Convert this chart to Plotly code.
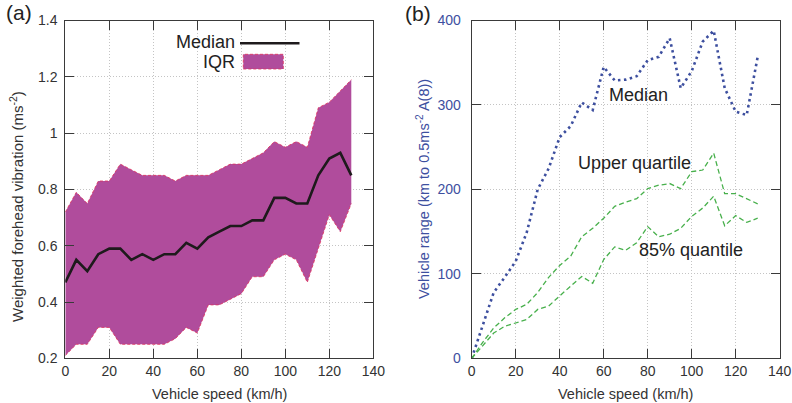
import plotly.graph_objects as go

# ---------------- data ----------------
speed = list(range(0, 135, 5))

# panel (a)
vib_median = [0.47, 0.55, 0.51, 0.57, 0.59, 0.59, 0.55, 0.57, 0.55, 0.57, 0.57, 0.61, 0.59, 0.63,
              0.65, 0.67, 0.67, 0.69, 0.69, 0.77, 0.77, 0.75, 0.75, 0.85, 0.91, 0.93, 0.85]
vib_q75 = [0.72, 0.79, 0.75, 0.83, 0.83, 0.89, 0.87, 0.85, 0.85, 0.85, 0.83, 0.85, 0.85, 0.85,
           0.87, 0.89, 0.89, 0.91, 0.93, 0.97, 0.95, 0.97, 0.95, 1.09, 1.11, 1.15, 1.19]
vib_q25 = [0.21, 0.25, 0.25, 0.31, 0.31, 0.25, 0.25, 0.25, 0.25, 0.25, 0.27, 0.31, 0.29, 0.39,
           0.39, 0.41, 0.43, 0.49, 0.49, 0.55, 0.57, 0.55, 0.47, 0.59, 0.71, 0.65, 0.75]

# panel (b)
range_median = [0, 38, 78, 96, 115, 149, 200, 225, 262, 275, 303, 294, 345, 329, 330, 334,
                353, 357, 379, 320, 340, 375, 388, 320, 292, 288, 357]
range_upper = [0, 19, 36, 48, 58, 64, 78, 96, 110, 121, 144, 154, 166, 180, 185, 189,
               201, 205, 207, 201, 221, 223, 243, 195, 195, 189, 183]
range_q85 = [0, 15, 30, 38, 42, 46, 58, 62, 74, 86, 97, 89, 117, 132, 128, 137,
             156, 144, 147, 154, 168, 178, 192, 157, 169, 161, 166]

x_ticks = [0, 20, 40, 60, 80, 100, 120, 140]
a_yticks = [0.2, 0.4, 0.6, 0.8, 1.0, 1.2, 1.4]
a_yticklabels = ["0.2", "0.4", "0.6", "0.8", "1", "1.2", "1.4"]
b_yticks = [0, 100, 200, 300, 400]

# ---------------- style ----------------
FONT = "Liberation Sans, Arial, sans-serif"
PURPLE = "#b04c9c"
EDGE = "#e0305a"
BLUE = "#3d4f9f"
GREEN = "#48b04c"
TXT = "#333333"
AX = "#3a3a3a"
GRID = "#c4c4c4"

fig = go.Figure()

# (a) IQR band
fig.add_trace(go.Scatter(x=speed, y=vib_q25, mode="lines",
                         line=dict(color=EDGE, width=0.8, dash="3px,2px"),
                         xaxis="x", yaxis="y", showlegend=False, hoverinfo="skip"))
fig.add_trace(go.Scatter(x=speed, y=vib_q75, mode="lines", fill="tonexty", fillcolor=PURPLE,
                         line=dict(color=EDGE, width=0.8, dash="3px,2px"),
                         xaxis="x", yaxis="y", showlegend=False, name="IQR"))
fig.add_trace(go.Scatter(x=speed, y=vib_median, mode="lines",
                         line=dict(color="#1e1a1c", width=2.6),
                         xaxis="x", yaxis="y", showlegend=False, name="Median"))

# (b) lines
fig.add_trace(go.Scatter(x=speed, y=range_median, mode="lines",
                         line=dict(color=BLUE, width=2.6, dash="2.5px,3.5px"),
                         xaxis="x2", yaxis="y2", showlegend=False, name="Median"))
fig.add_trace(go.Scatter(x=speed, y=range_upper, mode="lines",
                         line=dict(color=GREEN, width=1.3, dash="5px,3px"),
                         xaxis="x2", yaxis="y2", showlegend=False, name="Upper quartile"))
fig.add_trace(go.Scatter(x=speed, y=range_q85, mode="lines",
                         line=dict(color=GREEN, width=1.3, dash="5px,3px"),
                         xaxis="x2", yaxis="y2", showlegend=False, name="85% quantile"))

W, H = 792, 403
px = lambda v: v / W
py = lambda v: 1 - v / H

axis_common = dict(showgrid=True, gridcolor=GRID, griddash="1px,2px", gridwidth=1,
                   zeroline=False, showline=True, linecolor=AX, linewidth=1,
                   mirror="ticks", ticks="inside", ticklen=9, tickcolor=AX, tickwidth=1,
                   tickfont=dict(family=FONT, size=14, color=TXT))

fig.update_layout(
    width=W, height=H,
    margin=dict(l=0, r=0, t=0, b=0, autoexpand=False),
    paper_bgcolor="white", plot_bgcolor="white",
    showlegend=False,
    xaxis=dict(domain=[px(65.3), px(373.3)], range=[0, 140], tickvals=x_ticks,
               anchor="y", ticklabelstandoff=0, **axis_common),
    yaxis=dict(domain=[py(358.4), py(20.5)], range=[0.2, 1.4], tickvals=a_yticks,
               ticktext=a_yticklabels, anchor="x", ticklabelstandoff=4, **axis_common),
    xaxis2=dict(domain=[px(471.7), px(779.7)], range=[0, 140], tickvals=x_ticks,
                anchor="y2", ticklabelstandoff=0, **axis_common),
    yaxis2=dict(domain=[py(358.4), py(20.5)], range=[0, 400], tickvals=b_yticks,
                anchor="x2", ticklabelstandoff=7, **axis_common),
)
fig.update_yaxes(tickfont=dict(color=BLUE), selector=dict(anchor="x2"))


def txt(text, x, y, size, color="#222222", angle=0, xanchor="center", xref="paper", yref="paper"):
    return dict(text=text, x=x, y=y, xref=xref, yref=yref, showarrow=False,
                textangle=angle, xanchor=xanchor, yanchor="middle",
                font=dict(family=FONT, size=size, color=color))


ann = [
    # axis titles
    txt("Vehicle speed (km/h)", px(219.3), py(394), 14.5, TXT),
    txt("Vehicle speed (km/h)", px(625.7), py(394), 14.5, TXT),
    txt("Weighted forehead vibration (ms<sup>-2</sup>)", px(17), py(207), 15, TXT, angle=-90),
    txt("Vehicle range (km to 0.5ms<sup>-2</sup> A(8))", px(423), py(189), 14.5, BLUE, angle=-90),
    # panel labels
    txt("(a)", px(19), py(13), 21),
    txt("(b)", px(418), py(14), 21),
    # (b) line labels
    txt("Median", 75.8, 312, 18, xref="x2", yref="y2"),
    txt("Upper quartile", 74.2, 231, 18, xref="x2", yref="y2"),
    txt("85% quantile", 99.6, 128, 18, xref="x2", yref="y2"),
    # (a) legend text
    txt("Median", px(237), py(42), 18, xanchor="right"),
    txt("IQR", px(237), py(61.5), 18, xanchor="right"),
]
fig.update_layout(annotations=ann)

# (a) legend keys
fig.add_shape(type="line", xref="paper", yref="paper", x0=px(240), x1=px(299.5),
              y0=py(43.3), y1=py(43.3), line=dict(color="#1e1a1c", width=2.6))
fig.add_shape(type="rect", xref="paper", yref="paper", x0=px(243.3), x1=px(283.3),
              y0=py(69), y1=py(54.3), fillcolor=PURPLE,
              line=dict(color=EDGE, width=0.8, dash="3px,2px"))

fig.write_html(
    "out.html",
    config={"displayModeBar": False},
    post_script="document.body.style.margin='0';document.body.style.padding='0';"
                "document.body.style.overflow='hidden';",
)
